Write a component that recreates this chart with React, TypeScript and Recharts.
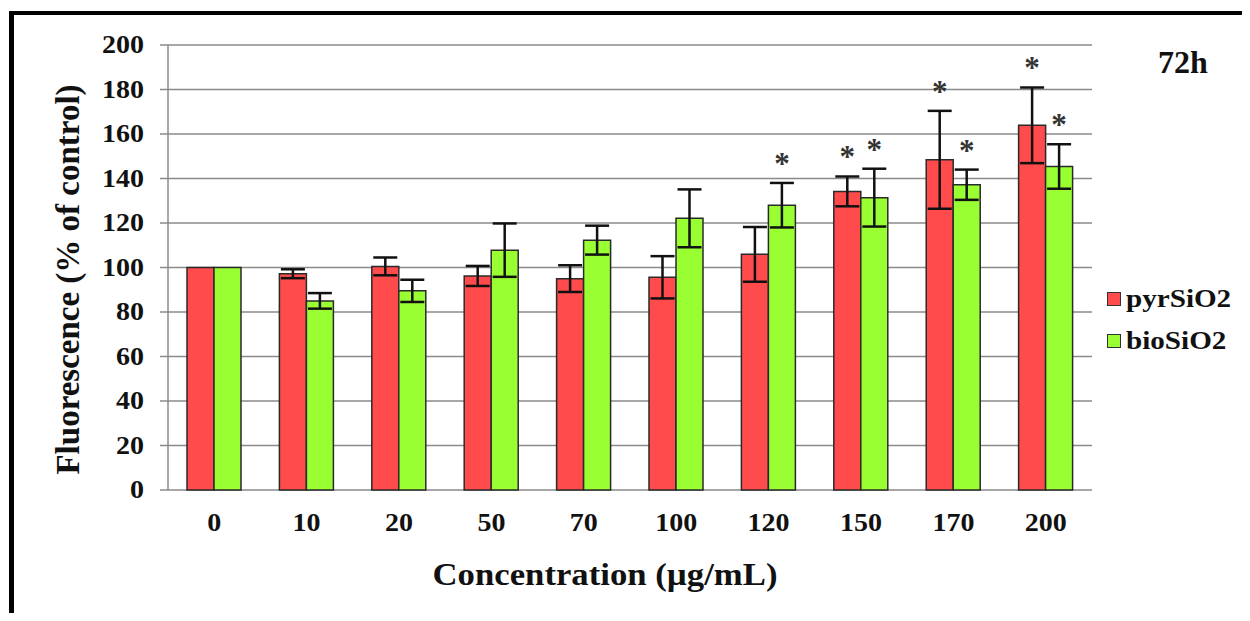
import { BarChart, Bar, XAxis, YAxis, CartesianGrid, ErrorBar, LabelList } from 'recharts';

const CONCENTRATIONS = ['0', '10', '20', '50', '70', '100', '120', '150', '170', '200'];
const PYR_SIO2 = [100, 97.2, 100.5, 96.2, 95.0, 95.6, 105.9, 134.2, 148.4, 163.9];
const PYR_SIO2_ERR = [0, 2, 4, 4.5, 6, 9.5, 12.3, 6.7, 22, 17];
const BIO_SIO2 = [100, 85, 89.5, 107.8, 112.3, 122.1, 128, 131.4, 137.2, 145.4];
const BIO_SIO2_ERR = [0, 3.5, 5, 12, 6.5, 13, 10, 13, 6.8, 10];
// significance markers (*) vs control
const PYR_SIG = [false, false, false, false, false, false, false, true, true, true];
const BIO_SIG = [false, false, false, false, false, false, true, true, true, true];
const Y_TICKS = [0, 20, 40, 60, 80, 100, 120, 140, 160, 180, 200];
const EDGE_TICKS = [0, 1, 2, 3, 4, 5, 6, 7, 8, 9, 10];

const RED = '#ff4b4b';
const GREEN = '#99ff33';
const GRID = '#8a8a8a';
const SERIF = '"Liberation Serif", "Times New Roman", serif';
const STRETCH = 1.12;

const data = CONCENTRATIONS.map((c, i) => ({
  conc: c,
  pyr: PYR_SIO2[i],
  pyrErr: PYR_SIO2_ERR[i],
  pyrSig: PYR_SIG[i],
  bio: BIO_SIO2[i],
  bioErr: BIO_SIO2_ERR[i],
  bioSig: BIO_SIG[i],
}));

const YTick = ({ x, y, payload }: any) => (
  <text
    transform={`translate(${x},${y}) scale(${STRETCH},1)`}
    textAnchor="end"
    dominantBaseline="central"
    fontFamily={SERIF}
    fontWeight="bold"
    fontSize={25}
    fill="#111"
  >
    {payload.value}
  </text>
);

const XTick = ({ x, y, payload }: any) => (
  <text
    transform={`translate(${x},${y + 25}) scale(${STRETCH},1)`}
    textAnchor="middle"
    dominantBaseline="central"
    fontFamily={SERIF}
    fontWeight="bold"
    fontSize={25}
    fill="#111"
  >
    {payload.value}
  </text>
);

// asterisk drawn just above the top of the error bar
const starLabel = (errKey: 'pyrErr' | 'bioErr', sigKey: 'pyrSig' | 'bioSig') => (props: any) => {
  const { x, y, width, height, value, index } = props;
  const row = data[index];
  if (!row || !row[sigKey]) return null;
  const errPx = (row[errKey] * height) / value;
  return (
    <text
      key={`star-${sigKey}-${index}`}
      x={x + width / 2}
      y={y - errPx - 9}
      textAnchor="middle"
      fontFamily={SERIF}
      fontWeight="bold"
      fontSize={31}
      fill="#333"
    >
      *
    </text>
  );
};

const legendItems = [
  { name: 'pyrSiO2', color: RED },
  { name: 'bioSiO2', color: GREEN },
];

export default function App() {
  return (
    <div
      style={{
        position: 'relative',
        width: 1250,
        height: 621,
        margin: -8,
        background: '#fff',
        overflow: 'hidden',
      }}
    >
      {/* outer frame */}
      <div
        style={{
          position: 'absolute',
          left: 9,
          top: 11,
          right: -10,
          bottom: -10,
          borderLeft: '5px solid #000',
          borderTop: '4px solid #000',
        }}
      />
      <BarChart
        width={1250}
        height={621}
        data={data}
        margin={{ top: 45, right: 158, left: 0, bottom: 0 }}
        barGap={0}
        barSize={27}
      >
        <CartesianGrid horizontal vertical={false} stroke={GRID} strokeWidth={1.5} />
        <XAxis
          xAxisId="edges"
          type="number"
          domain={[0, 10]}
          ticks={EDGE_TICKS}
          height={0}
          tick={false}
          tickSize={8}
          axisLine={{ stroke: GRID, strokeWidth: 1.5 }}
          tickLine={{ stroke: GRID, strokeWidth: 1.5 }}
        />
        <XAxis
          dataKey="conc"
          height={131}
          axisLine={false}
          tickLine={false}
          tick={<XTick />}
          interval={0}
          label={{
            content: ({ viewBox }: any) => (
              <text
                transform={`translate(${viewBox.x + viewBox.width / 2 - 25},${575}) scale(${STRETCH},1)`}
                textAnchor="middle"
                dominantBaseline="central"
                fontFamily={SERIF}
                fontWeight="bold"
                fontSize={31}
                fill="#111"
              >
                Concentration (µg/mL)
              </text>
            ),
          }}
        />
        <YAxis
          domain={[0, 200]}
          ticks={Y_TICKS}
          width={168}
          tickSize={8}
          tickMargin={16}
          axisLine={{ stroke: GRID, strokeWidth: 1.5 }}
          tickLine={{ stroke: GRID, strokeWidth: 1.5 }}
          tick={<YTick />}
          label={{
            content: ({ viewBox }: any) => (
              <text
                transform={`translate(68,${viewBox.y + viewBox.height / 2 + 12}) rotate(-90)`}
                textAnchor="middle"
                dominantBaseline="central"
                fontFamily={SERIF}
                fontWeight="bold"
                fontSize={33}
                fill="#111"
              >
                Fluorescence (% of control)
              </text>
            ),
          }}
        />
        <YAxis
          yAxisId="frame"
          orientation="right"
          domain={[0, 200]}
          width={0}
          tick={false}
          tickLine={false}
          axisLine={{ stroke: GRID, strokeWidth: 1.5 }}
        />
        <Bar dataKey="pyr" name="pyrSiO2" fill={RED} stroke="#2a2a2a" strokeWidth={1.5} isAnimationActive={false}>
          <ErrorBar dataKey="pyrErr" width={12} stroke="#111" strokeWidth={2.5} direction="y" />
          <LabelList dataKey="pyr" content={starLabel('pyrErr', 'pyrSig')} />
        </Bar>
        <Bar dataKey="bio" name="bioSiO2" fill={GREEN} stroke="#2a2a2a" strokeWidth={1.5} isAnimationActive={false}>
          <ErrorBar dataKey="bioErr" width={12} stroke="#111" strokeWidth={2.5} direction="y" />
          <LabelList dataKey="bio" content={starLabel('bioErr', 'bioSig')} />
        </Bar>
      </BarChart>

      <div
        style={{
          position: 'absolute',
          left: 1183,
          top: 62,
          transform: 'translate(-50%, -50%)',
          fontFamily: SERIF,
          fontWeight: 'bold',
          fontSize: 32,
          color: '#111',
        }}
      >
        72h
      </div>

      <div style={{ position: 'absolute', left: 1107, top: 278 }}>
        {legendItems.map((item) => (
          <div key={item.name} style={{ display: 'flex', alignItems: 'center', height: 42 }}>
            <span
              style={{
                display: 'inline-block',
                width: 12,
                height: 12,
                background: item.color,
                border: '1.5px solid #333',
                marginRight: 5,
              }}
            />
            <span
              style={{
                fontFamily: SERIF,
                fontWeight: 'bold',
                fontSize: 26,
                color: '#111',
                display: 'inline-block',
                transform: `scaleX(${STRETCH})`,
                transformOrigin: 'left center',
              }}
            >
              {item.name}
            </span>
          </div>
        ))}
      </div>
    </div>
  );
}
